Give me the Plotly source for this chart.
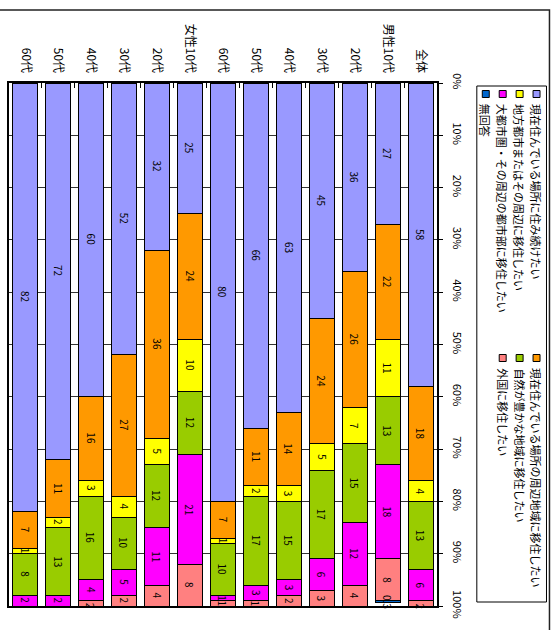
import plotly.graph_objects as go

# Survey groups, top-down order of the table
groups = ["全体", "男性10代", "男性20代", "男性30代", "男性40代", "男性50代", "男性60代",
          "女性10代", "女性20代", "女性30代", "女性40代", "女性50代", "女性60代"]
group_labels = ["全体", "男性10代", "20代", "30代", "40代", "50代", "60代",
                "女性10代", "20代", "30代", "40代", "50代", "60代"]

series_names = [
    "現在住んでいる場所に住み続けたい",
    "現在住んでいる場所の周辺地域に移住したい",
    "地方都市またはその周辺に移住したい",
    "自然が豊かな地域に移住したい",
    "大都市圏・その周辺の都市部に移住したい",
    "外国に移住したい",
    "無回答",
]

stay       = [58, 27, 36, 45, 63, 66, 80, 25, 32, 52, 60, 72, 82]
nearby     = [18, 22, 26, 24, 14, 11, 7, 24, 36, 27, 16, 11, 7]
local_city = [4, 11, 7, 5, 3, 2, 1, 10, 5, 4, 3, 2, 1]
nature     = [13, 13, 15, 17, 15, 17, 10, 12, 12, 10, 16, 13, 8]
big_city   = [6, 18, 12, 6, 3, 3, 1, 21, 11, 5, 4, 2, 2]
abroad     = [2, 8, 4, 3, 2, 1, 1, 8, 4, 2, 2, 0.4, 0.3]
no_answer  = [0.3, 0.3, 0.4, 0.2, 0.4, 0.3, 0.1, 0.2, 0.2, 0.7, 0.1, 0.5, 0.4]

percent_ticks = list(range(0, 101, 10))

series_values = [stay, nearby, local_city, nature, big_city, abroad, no_answer]
colors = ["#9999FF", "#FF9900", "#FFFF00", "#99CC00", "#FF00FF", "#FF8080", "#0066CC"]

FONT = "Noto Sans CJK JP"

# plot-area pixel box, used to place the hand-drawn legend and frame
W, H = 559, 630
L, R, T, B = 7, 437, 83, 606


def fx(px):
    return (px - L) / (R - L)


def fy(py):
    return (B - py) / (B - T)


def fmt(v):
    return str(int(v)) if float(v).is_integer() else f"{v:.1f}"


fig = go.Figure()
annotations = []
base = [0.0] * len(groups)
for name, vals, col in zip(series_names, series_values, colors):
    fig.add_trace(go.Bar(
        x=groups, y=vals, name=name,
        marker=dict(color=col, line=dict(color="black", width=1)),
        showlegend=False, hoverinfo="x+y+name",
    ))
    # value labels, centred in each stacked segment and turned with the chart
    for g, v, b in zip(groups, vals, base):
        annotations.append(dict(
            text=fmt(v), x=g, y=b + v / 2, xref="x", yref="y",
            textangle=90, showarrow=False,
            font=dict(family=FONT, size=10, color="black"),
        ))
    base = [b + v for b, v in zip(base, vals)]

shapes = [
    # outer chart frame
    dict(type="rect", xref="paper", yref="paper",
         x0=fx(-6), x1=fx(550), y0=fy(640), y1=fy(10),
         line=dict(color="#222", width=1.5), layer="below"),
    # legend frame
    dict(type="rect", xref="paper", yref="paper",
         x0=fx(477), x1=fx(547), y0=fy(602), y1=fy(86),
         line=dict(color="black", width=1), fillcolor="white"),
]
for i, (name, col) in enumerate(zip(series_names, colors)):
    cx = 537 - 17 * (i // 2)
    my = 94 if i % 2 == 0 else 358
    shapes.append(dict(type="rect", xref="paper", yref="paper",
                       x0=fx(cx - 3.5), x1=fx(cx + 3.5),
                       y0=fy(my + 3.5), y1=fy(my - 3.5),
                       fillcolor=col, line=dict(color="black", width=1)))
    annotations.append(dict(text=name, xref="paper", yref="paper",
                            x=fx(cx), y=fy(my + 8), xanchor="center", yanchor="top",
                            textangle=90, showarrow=False,
                            font=dict(family=FONT, size=11, color="black")))

fig.update_layout(
    width=W, height=H,
    margin=dict(l=L, r=W - R, t=T, b=H - B, pad=0),
    barmode="stack", bargap=0.24,
    plot_bgcolor="white", paper_bgcolor="white",
    font=dict(family=FONT, color="black"),
    shapes=shapes, annotations=annotations,
    xaxis=dict(
        side="top", type="category",
        categoryorder="array", categoryarray=groups[::-1],
        tickvals=groups, ticktext=group_labels,
        tickangle=90, tickfont=dict(family=FONT, size=12),
        ticks="inside", tickson="boundaries", ticklen=5, tickcolor="black",
        ticklabelstandoff=4,
        showline=True, linecolor="black", linewidth=1.5, mirror=True,
        showgrid=False,
    ),
    yaxis=dict(
        side="right", range=[100, 0],
        tickvals=percent_ticks, ticktext=[f"{t}%" for t in percent_ticks],
        tickangle=90, tickfont=dict(family=FONT, size=11),
        ticks="outside", ticklen=4, tickcolor="black",
        ticklabelstandoff=6,
        showline=True, linecolor="black", linewidth=1.5, mirror=True,
        showgrid=True, gridcolor="#333", gridwidth=1,
        zeroline=False,
    ),
)

fig.write_html("out.html")
